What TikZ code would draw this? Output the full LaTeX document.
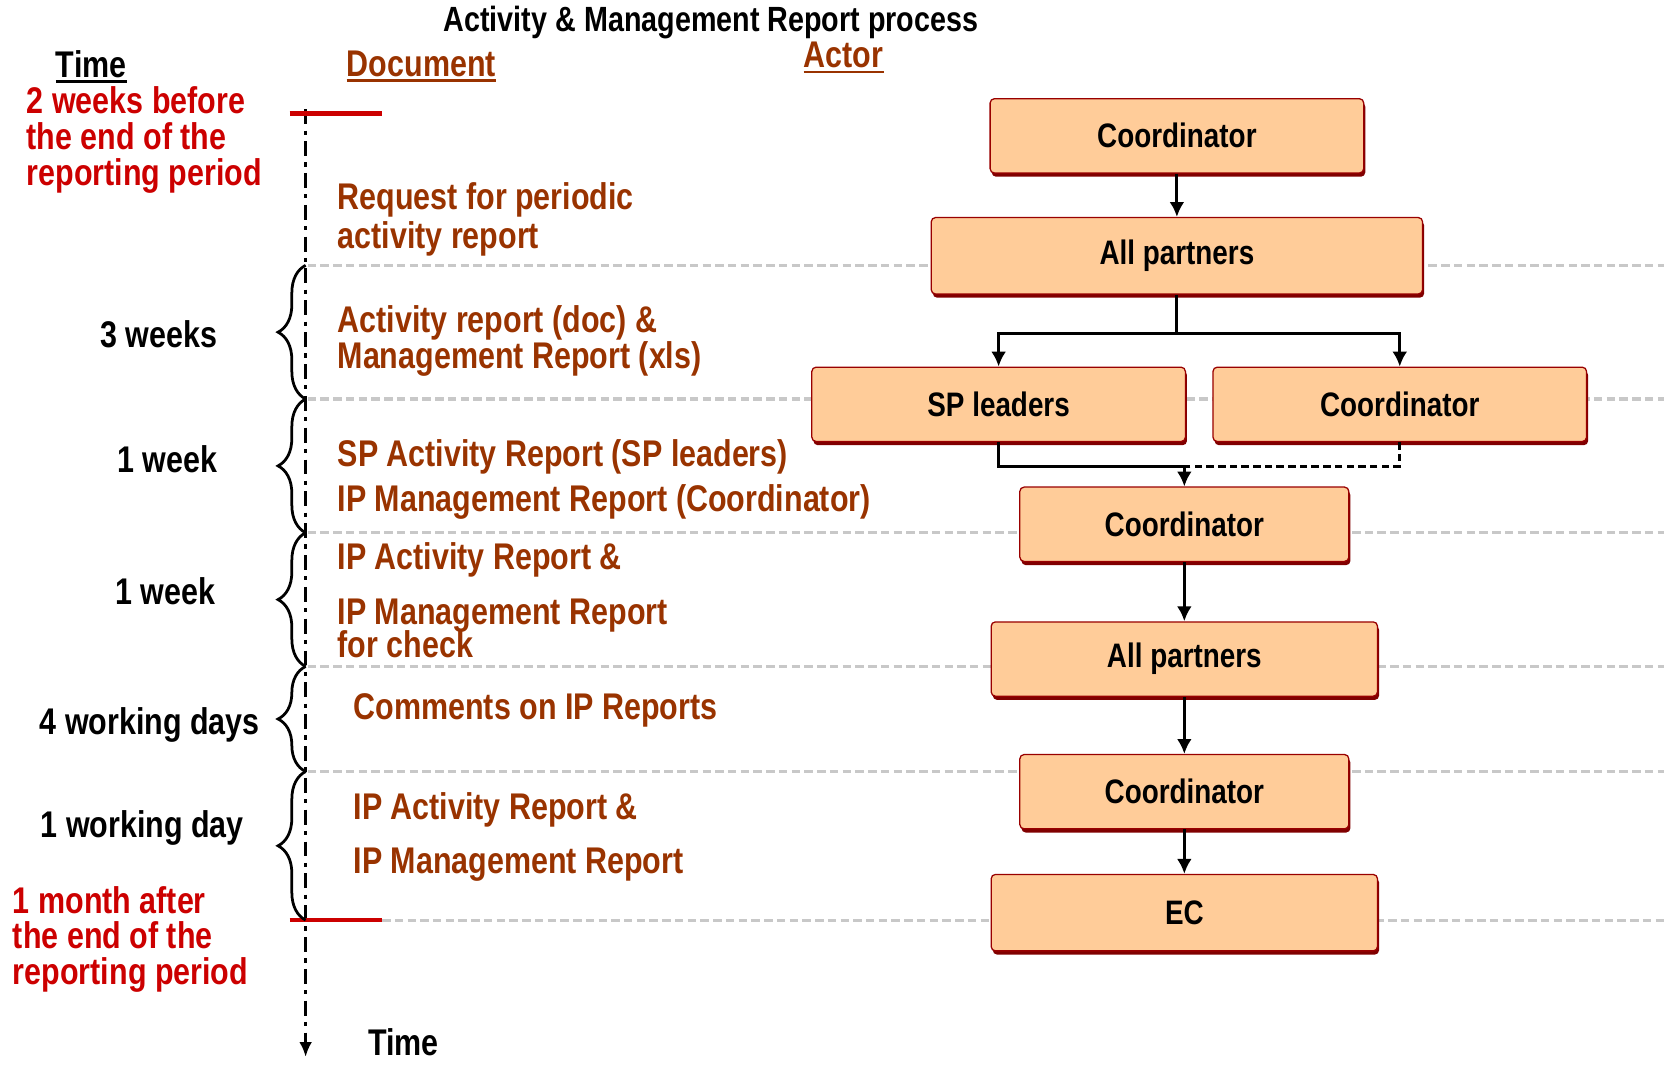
\documentclass[tikz,border=0pt]{standalone}
\usepackage{fontspec}
\newfontfamily\nf[FakeStretch=0.82]{Liberation Sans}
\usetikzlibrary{arrows.meta,shadows,decorations.pathreplacing,calc}
\definecolor{docbrown}{HTML}{993300}
\definecolor{datered}{HTML}{CC0000}
\definecolor{boxfill}{HTML}{FFCC99}
\definecolor{boxedge}{HTML}{990000}
\definecolor{boxshade}{HTML}{800000}
\definecolor{guide}{HTML}{C8C8C8}
\tikzset{
  txt/.style={inner sep=0pt, anchor=base west, font=\nf\bfseries\fontsize{35}{35}\selectfont},
  doc/.style={txt, text=docbrown},
  red/.style={txt, text=datered},
  dur/.style={txt, anchor=base east, text=black},
  actor/.style={draw=boxedge, fill=boxfill, line width=1.2pt, rounded corners=4pt,
    inner sep=0pt, font=\nf\bfseries\fontsize{32}{32}\selectfont,
    drop shadow={shadow xshift=1.5pt, shadow yshift=-3.5pt, fill=boxshade, opacity=1}},
  guideline/.style={draw=guide, line width=3pt, dash pattern=on 8pt off 4pt},
  redmark/.style={draw=datered, line width=4pt},
  arr/.style={line width=2.8pt, -{Latex[length=14pt,width=14pt]}},
  link/.style={line width=2.8pt},
  brc/.style={line width=2.6pt, decorate, decoration={brace, amplitude=26pt}},
  ul/.style={line width=2.5pt}
}
\begin{document}
\begin{tikzpicture}[x=1pt,y=-1pt]
\useasboundingbox (0,0) rectangle (1568,1004);

% horizontal period guides
\foreach \yy in {250,376,502,628,727} \draw[guideline] (290,\yy) -- (1568,\yy);
\draw[guideline] (360,867) -- (1568,867);

% time axis
\draw[line width=3pt, dash pattern=on 14pt off 6pt on 4pt off 6pt,
      -{Latex[length=14pt,width=12pt]}] (288,103) -- (288,996);
\draw[redmark] (273,107) -- (360,107);
\draw[redmark] (273,867) -- (360,867);

% braces for the durations
\draw[brc] (288,376) -- (288,250);
\draw[brc] (288,502) -- (288,376);
\draw[brc] (288,628) -- (288,502);
\draw[brc] (288,727) -- (288,628);
\draw[brc] (288,867) -- (288,727);

% headings
\node[txt, anchor=base, font=\nf\bfseries\fontsize{33}{33}\selectfont] (title) at (670,30) {Activity \& Management Report process};
\node[txt, anchor=base] (tmh) at (86,73) {Time};
\node[doc, anchor=base] (doch) at (397,72) {Document};
\node[doc, anchor=base] (acth) at (795,64) {Actor};
\draw[ul] ([yshift=-4pt]tmh.base west) -- ([yshift=-4pt]tmh.base east);
\draw[ul, docbrown] ([yshift=-4pt]doch.base west) -- ([yshift=-4pt]doch.base east);
\draw[ul, docbrown] ([yshift=-4pt]acth.base west) -- ([yshift=-4pt]acth.base east);

% dates
\node[red] (s1) at (25,107) {2 weeks before};
\node[red] (s2) at (25,141) {the end of the};
\node[red] (s3) at (25,175) {reporting period};
\node[red] (e1) at (12,861) {1 month after};
\node[red] (e2) at (12,894) {the end of the};
\node[red] (e3) at (12,928) {reporting period};
\node[txt, anchor=base] (tmf) at (380,995) {Time};

% durations
\node[dur] (d1) at (205,327) {3 weeks};
\node[dur] (d2) at (205,445) {1 week};
\node[dur] (d3) at (203,570) {1 week};
\node[dur] (d4) at (245,692) {4 working days};
\node[dur] (d5) at (230,789) {1 working day};

% documents
\node[doc] (r1) at (318,197) {Request for periodic};
\node[doc] (r2) at (318,234) {activity report};
\node[doc] (a1) at (318,313) {Activity report (doc) \&};
\node[doc] (a2) at (318,347) {Management Report (xls)};
\node[doc] (b1) at (318,440) {SP Activity Report (SP leaders)};
\node[doc] (b2) at (318,482) {IP Management Report (Coordinator)};
\node[doc] (c1) at (318,537) {IP Activity Report \&};
\node[doc] (c2) at (318,588) {IP Management Report};
\node[doc] (c3) at (318,620) {for check};
\node[doc] (k1) at (333,678) {Comments on IP Reports};
\node[doc] (f1) at (333,772) {IP Activity Report \&};
\node[doc] (f2) at (333,823) {IP Management Report};

% actors
\node[actor, minimum width=352pt, minimum height=70pt] (coA) at (1109,128) {Coordinator};
\node[actor, minimum width=463pt, minimum height=72pt] (apA) at (1109,241) {All partners};
\node[actor, minimum width=352pt, minimum height=70pt] (spl) at (941,381) {SP leaders};
\node[actor, minimum width=352pt, minimum height=70pt] (coB) at (1319,381) {Coordinator};
\node[actor, minimum width=310pt, minimum height=70pt] (coC) at (1116,494) {Coordinator};
\node[actor, minimum width=364pt, minimum height=70pt] (apB) at (1116,621) {All partners};
\node[actor, minimum width=310pt, minimum height=70pt] (coD) at (1116,746) {Coordinator};
\node[actor, minimum width=364pt, minimum height=72pt] (ec) at (1116,860) {EC};

% flow
\draw[arr] (coA) -- (apA);
\coordinate (split) at ($(apA.south)+(0,37)$);
\draw[link] (apA.south) -- (split);
\draw[arr] (split) -| (spl.north);
\draw[arr] (split) -| (coB.north);
\coordinate (join) at ($(coC.north)+(0,-19)$);
\draw[link] (spl.south) |- (join);
\draw[link, dash pattern=on 7pt off 4pt] (coB.south) |- (join);
\draw[arr] (join) -- (coC.north);
\draw[arr] (coC) -- (apB);
\draw[arr] (apB) -- (coD);
\draw[arr] (coD) -- (ec);
\end{tikzpicture}
\end{document}
